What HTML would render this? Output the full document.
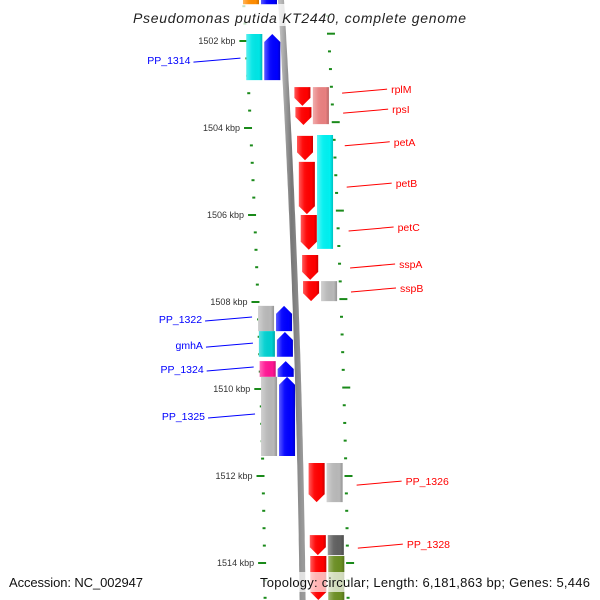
<!DOCTYPE html>
<html><head><meta charset="utf-8"><style>
body{margin:0;background:#fff}
svg{display:block;font-family:"Liberation Sans","DejaVu Sans",sans-serif}
</style></head><body>
<svg id="map" width="600" height="600" viewBox="0 0 600 600">
<defs>
<linearGradient id="sh" x1="0" x2="1" y1="0" y2="0">
<stop offset="0" stop-color="#fff" stop-opacity="0.35"/>
<stop offset="0.35" stop-color="#fff" stop-opacity="0.05"/>
<stop offset="0.8" stop-color="#000" stop-opacity="0"/>
<stop offset="1" stop-color="#000" stop-opacity="0.2"/>
</linearGradient>
<linearGradient id="bb" x1="0" x2="1"><stop offset="0" stop-color="#bbb"/><stop offset="0.5" stop-color="#777"/><stop offset="1" stop-color="#999"/></linearGradient>
</defs>
<g id="ticks"></g>
<path id="backbone" fill="none" stroke="url(#bb)" stroke-width="6"/>
<g id="genes"></g>
<g id="labels"></g>
<rect x="130" y="4" width="340" height="22" fill="#fff" opacity="0.75"/>
<text x="133" y="23" textLength="333" font-size="14" font-style="italic" fill="#222">Pseudomonas putida KT2440, complete genome</text>
<rect x="0" y="572" width="600" height="20" fill="#fff" opacity="0.7"/>
<text x="9" y="587" textLength="134" font-size="13" fill="#111">Accession: NC_002947</text>
<text x="260" y="587" textLength="330" font-size="13" fill="#111">Topology: circular; Length: 6,181,863 bp; Genes: 5,446</text>
</svg>
<script>
// data
const majorTicks = [1502,1504,1506,1508,1510,1512,1514];
const tickStep = 0.4;
const geneStarts = [1500.94,1500.94,1501.84,1501.84,1503.06,1503.52,1503.06,1504.18,1504.16,1504.78,1506.0,1506.92,1507.52,1507.52,1508.09,1508.09,1508.67,1508.69,1509.36,1509.36,1509.72,1509.72,1511.7,1511.7,1513.36,1513.36,1513.84,1513.84];
const geneEnds   = [1501.17,1501.17,1502.9,1502.9,1503.49,1503.93,1503.91,1504.74,1506.78,1505.98,1506.8,1507.49,1507.98,1507.98,1508.67,1508.67,1509.26,1509.26,1509.72,1509.72,1511.54,1511.54,1512.6,1512.6,1513.82,1513.82,1514.85,1514.85];
const geneStrand = [-1,-1,-1,-1,1,1,1,1,1,1,1,1,1,1,-1,-1,-1,-1,-1,-1,-1,-1,1,1,1,1,1,1];
const geneTrack  = [2,1,2,1,1,1,2,1,2,1,1,1,1,2,2,1,2,1,2,1,2,1,1,2,1,2,1,2];
const geneColor  = ["#ff8c00","#0000ff","#00e5e5","#0000ff","#ff0000","#ff0000","#e88080","#ff0000","#00f0f0","#ff0000","#ff0000","#ff0000","#ff0000","#b8b8b8","#b8b8b8","#0000ff","#00d0d0","#0000ff","#ff1493","#0000ff","#b8b8b8","#0000ff","#ff0000","#b8b8b8","#ff0000","#606060","#ff0000","#6b8e23"];
const geneArrow  = [0,0,0,1,1,1,0,1,0,1,1,1,1,0,0,1,0,1,0,1,0,1,1,0,1,0,1,0];
const labelNames = ["PP_1314","rplM","rpsI","petA","petB","petC","sspA","sspB","PP_1322","gmhA","PP_1324","PP_1325","PP_1326","PP_1328"];
const labelKbp   = [1502.44,1503.13,1503.59,1504.34,1505.29,1506.3,1507.15,1507.7,1508.39,1508.99,1509.54,1510.62,1512.14,1513.59];
const labelSide  = [-1,1,1,1,1,1,1,1,-1,-1,-1,-1,1,1];

const NS="http://www.w3.org/2000/svg";
const pxPerKbp = 43.5;
function yOf(k){return 41+(k-1502)*pxPerKbp;}
function bx(y){return 281+0.06*y-0.00004*y*y;}
function mk(tag,attrs,parent){const e=document.createElementNS(NS,tag);for(const a in attrs)e.setAttribute(a,attrs[a]);parent.appendChild(e);return e;}

let d="";for(let y=-5;y<=605;y+=5)d+=(y<0?"M":"L")+bx(y).toFixed(1)+" "+y;
document.getElementById("backbone").setAttribute("d",d);

const tg=document.getElementById("ticks");
for(let k=1500.8;k<=1515;k+=tickStep){
  const y=yOf(k);
  const major=majorTicks.some(m=>Math.abs(m-k)<0.05);
  const lx=bx(y)-36, len=major?8:3;
  const t=mk("line",{x1:lx-len,x2:lx,y1:y,y2:y,stroke:"#1a8a1a","stroke-width":2},tg);
  
  
  const yr=y-8*Math.max(0,1-y/475);
  const rx=bx(yr)+44;
  const t2=mk("line",{x1:rx,x2:rx+len,y1:yr,y2:yr,stroke:"#1a8a1a","stroke-width":2},tg);
  
  
  if(major){
    const tx=mk("text",{x:lx-len-4,y:y+3,"text-anchor":"end","font-size":9,fill:"#333"},tg);
    tx.textContent=Math.round(k)+" kbp";
    
    
  }
}

const gg=document.getElementById("genes");
for(let i=0;i<geneStarts.length;i++){
  const y1=yOf(geneStarts[i]), y2=yOf(geneEnds[i]);
  const s=geneStrand[i], tr=geneTrack[i];
  const w=16, c=bx((y1+y2)/2);
  let x0;
  if(s>0) x0=c+(tr===1?8:26); else x0=c-(tr===1?20:38);
  const x1=x0+w, head=geneArrow[i]?Math.min(8,(y2-y1)/2):0;
  let p;
  if(!head) p=`M${x0} ${y1}L${x1} ${y1}L${x1} ${y2}L${x0} ${y2}Z`;
  else if(s>0) p=`M${x0} ${y1}L${x1} ${y1}L${x1} ${y2-head}L${(x0+x1)/2} ${y2}L${x0} ${y2-head}Z`;
  else p=`M${(x0+x1)/2} ${y1}L${x1} ${y1+head}L${x1} ${y2}L${x0} ${y2}L${x0} ${y1+head}Z`;
  const g=mk("g",{},gg);
  
  
  mk("path",{d:p,fill:geneColor[i]},g);
  mk("path",{d:p,fill:"url(#sh)"},g);
}

const lg=document.getElementById("labels");
for(let i=0;i<labelNames.length;i++){
  const y=yOf(labelKbp[i]);
  const s=labelSide[i], col=s>0?"#ff0000":"#0000ff";
  const g=mk("g",{},lg);
  
  
  if(s>0){
    const xs=bx(y)+56, xe=xs+45;
    mk("line",{x1:xs,y1:y+3,x2:xe,y2:y-1,stroke:col,"stroke-width":1},g);
    const t=mk("text",{x:xe+4,y:y+3,"font-size":10.5,fill:col},g);t.textContent=labelNames[i];
  } else {
    const xe=bx(y)-44, xs=xe-47;
    mk("line",{x1:xs,y1:y+2,x2:xe,y2:y-2,stroke:col,"stroke-width":1},g);
    const t=mk("text",{x:xs-3,y:y+4,"text-anchor":"end","font-size":10.5,fill:col},g);t.textContent=labelNames[i];
  }
}
</script>
</body></html>
